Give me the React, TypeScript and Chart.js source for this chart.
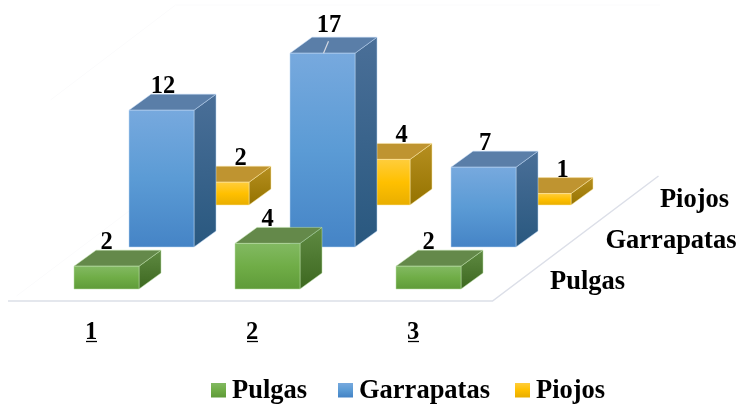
import React, { useEffect, useRef } from "react";
import { Chart, registerables } from "chart.js";

Chart.register(...registerables);

const categories = ["1", "2", "3"];
const seriesNames = ["Pulgas", "Garrapatas", "Piojos"];
const pulgas = [2, 4, 2];
const garrapatas = [12, 17, 7];
const piojos = [2, 4, 1];

const FONT = '"Liberation Serif"';
const SIZE = 24.5;
const TEXT_SIZE = 26.5;
const ROW_DX = [15.5, 70.5, 125.5];
const ROW_DY = [-12, -54, -96];
const DEPTH_X = 22;
const DEPTH_Y = -16;
const LABEL_DX = [0, 1.5, 24];

const PALETTE = [
  { front: ["#82b962", "#70ad47", "#5f9b39"], top: "#64894a", side: ["#5f8a42", "#3d6820"], edge: "rgba(190,225,170,0.5)" },
  { front: ["#77a9de", "#5b9bd5", "#4584c6"], top: "#5a7ea8", side: ["#4a6f98", "#29587f"], edge: "rgba(190,215,245,0.5)" },
  { front: ["#ffcd3c", "#ffc000", "#e9ae00"], top: "#bf9430", side: ["#b68f20", "#957300"], edge: "rgba(255,235,170,0.5)" },
];

const LEGEND_X = [211, 338, 515];
const ROW_LABELS = [
  { x: 587.5, y: 289 },
  { x: 671, y: 248 },
  { x: 694.5, y: 207 },
];

function vGrad(ctx: CanvasRenderingContext2D, y0: number, y1: number, stops: string[]) {
  const g = ctx.createLinearGradient(0, y0, 0, y1);
  stops.forEach((c, i) => g.addColorStop(i / (stops.length - 1), c));
  return g;
}

function poly(ctx: CanvasRenderingContext2D, pts: number[][], fill: any, edge: string) {
  ctx.beginPath();
  pts.forEach((p, i) => (i ? ctx.lineTo(p[0], p[1]) : ctx.moveTo(p[0], p[1])));
  ctx.closePath();
  ctx.fillStyle = fill;
  ctx.fill();
  ctx.strokeStyle = edge;
  ctx.lineWidth = 1;
  ctx.stroke();
}

const scene3d = {
  id: "scene3d",
  afterDatasetsDraw(chart: any) {
    const ctx: CanvasRenderingContext2D = chart.ctx;
    const area = chart.chartArea;
    ctx.save();

    // very faint walls
    ctx.strokeStyle = "#fbfbfc";
    ctx.lineWidth = 1;
    ctx.beginPath();
    ctx.moveTo(area.left + 165, 5);
    ctx.lineTo(660, 5);
    ctx.moveTo(area.left + 165, 176);
    ctx.lineTo(area.left + 6, 296);
    ctx.moveTo(area.left + 165, 5);
    ctx.lineTo(area.left + 40, 100);
    ctx.stroke();

    // floor edges
    ctx.strokeStyle = "#dcdfe8";
    ctx.lineWidth = 1.5;
    ctx.beginPath();
    ctx.moveTo(8, area.bottom);
    ctx.lineTo(area.right - 1, area.bottom);
    ctx.lineTo(area.right + 165, area.bottom - 125);
    ctx.stroke();

    // bars, back row first
    for (let r = 2; r >= 0; r--) {
      const meta = chart.getDatasetMeta(r);
      const pal = PALETTE[r];
      meta.data.forEach((el: any) => {
        const x0 = el.x - el.width / 2 + ROW_DX[r];
        const x1 = el.x + el.width / 2 + ROW_DX[r];
        const top = el.y + ROW_DY[r];
        const base = el.base + ROW_DY[r];
        poly(ctx, [[x1, top], [x1 + DEPTH_X, top + DEPTH_Y], [x1 + DEPTH_X, base + DEPTH_Y], [x1, base]],
          vGrad(ctx, top + DEPTH_Y, base, pal.side), pal.edge);
        poly(ctx, [[x0, top], [x0 + DEPTH_X, top + DEPTH_Y], [x1 + DEPTH_X, top + DEPTH_Y], [x1, top]], pal.top, pal.edge);
        poly(ctx, [[x0, top], [x1, top], [x1, base], [x0, base]], vGrad(ctx, top, base, pal.front), pal.edge);
      });
    }

    // value labels
    ctx.font = `bold ${SIZE}px ${FONT}`;
    ctx.textAlign = "center";
    ctx.textBaseline = "alphabetic";
    for (let r = 2; r >= 0; r--) {
      const meta = chart.getDatasetMeta(r);
      const values = chart.data.datasets[r].data;
      meta.data.forEach((el: any, i: number) => {
        const big = values[i] >= 15;
        const x = el.x + ROW_DX[r] + LABEL_DX[r] + (big ? 5 : 0);
        const top = el.y + ROW_DY[r];
        ctx.fillStyle = "#000";
        ctx.fillText(String(values[i]), x, top - (big ? 21 : 17));
        if (big) {
          ctx.strokeStyle = "#d5d9e2";
          ctx.lineWidth = 1.2;
          ctx.beginPath();
          ctx.moveTo(x - 5.5, top);
          ctx.lineTo(x - 0.5, top - 12);
          ctx.stroke();
        }
      });
    }

    // tick underscores
    ctx.strokeStyle = "#000";
    ctx.lineWidth = 1.3;
    const xs = chart.scales.x;
    categories.forEach((_, i) => {
      const px = xs.getPixelForTick(i);
      ctx.beginPath();
      ctx.moveTo(px - 5, 341.5);
      ctx.lineTo(px + 6, 341.5);
      ctx.stroke();
    });

    // series (depth axis) labels
    ctx.font = `bold ${TEXT_SIZE}px ${FONT}`;
    ctx.fillStyle = "#000";
    ctx.textAlign = "center";
    seriesNames.forEach((n, i) => ctx.fillText(n, ROW_LABELS[i].x, ROW_LABELS[i].y));

    // legend
    ctx.textAlign = "left";
    seriesNames.forEach((n, i) => {
      const x = LEGEND_X[i];
      ctx.fillStyle = vGrad(ctx, 383, 397, PALETTE[i].front);
      ctx.fillRect(x, 383, 15, 14.5);
      ctx.fillStyle = "#000";
      ctx.fillText(n, x + 21, 398);
    });
    ctx.restore();
  },
};

export default function App() {
  const ref = useRef<HTMLCanvasElement>(null);
  useEffect(() => {
    const chart = new Chart(ref.current as HTMLCanvasElement, {
      type: "bar",
      data: {
        labels: categories,
        datasets: [pulgas, garrapatas, piojos].map((data, i) => ({
          label: seriesNames[i],
          data,
          backgroundColor: "rgba(0,0,0,0)",
          borderWidth: 0,
          barThickness: 65,
          grouped: false,
        })),
      },
      options: {
        responsive: false,
        animation: false,
        devicePixelRatio: 1,
        layout: { padding: { left: 10.5, right: 245.5, top: 73, bottom: 45 } },
        plugins: { legend: { display: false }, tooltip: { enabled: false }, title: { display: false } },
        scales: {
          x: {
            grid: { display: false },
            border: { display: false },
            afterFit: (s: any) => { s.height = 60; },
            ticks: {
              color: "#000",
              maxRotation: 0,
              padding: 9,
              font: { family: FONT, size: SIZE, weight: "bold" },
            },
          },
          y: { display: false, min: 0, max: 20 },
        },
      } as any,
      plugins: [scene3d as any],
    });
    return () => chart.destroy();
  }, []);
  return (
    <div style={{ position: "fixed", left: 0, top: 0, width: 739, height: 406, background: "#fff" }}>
      <canvas ref={ref} width={739} height={406} style={{ display: "block" }} />
    </div>
  );
}
